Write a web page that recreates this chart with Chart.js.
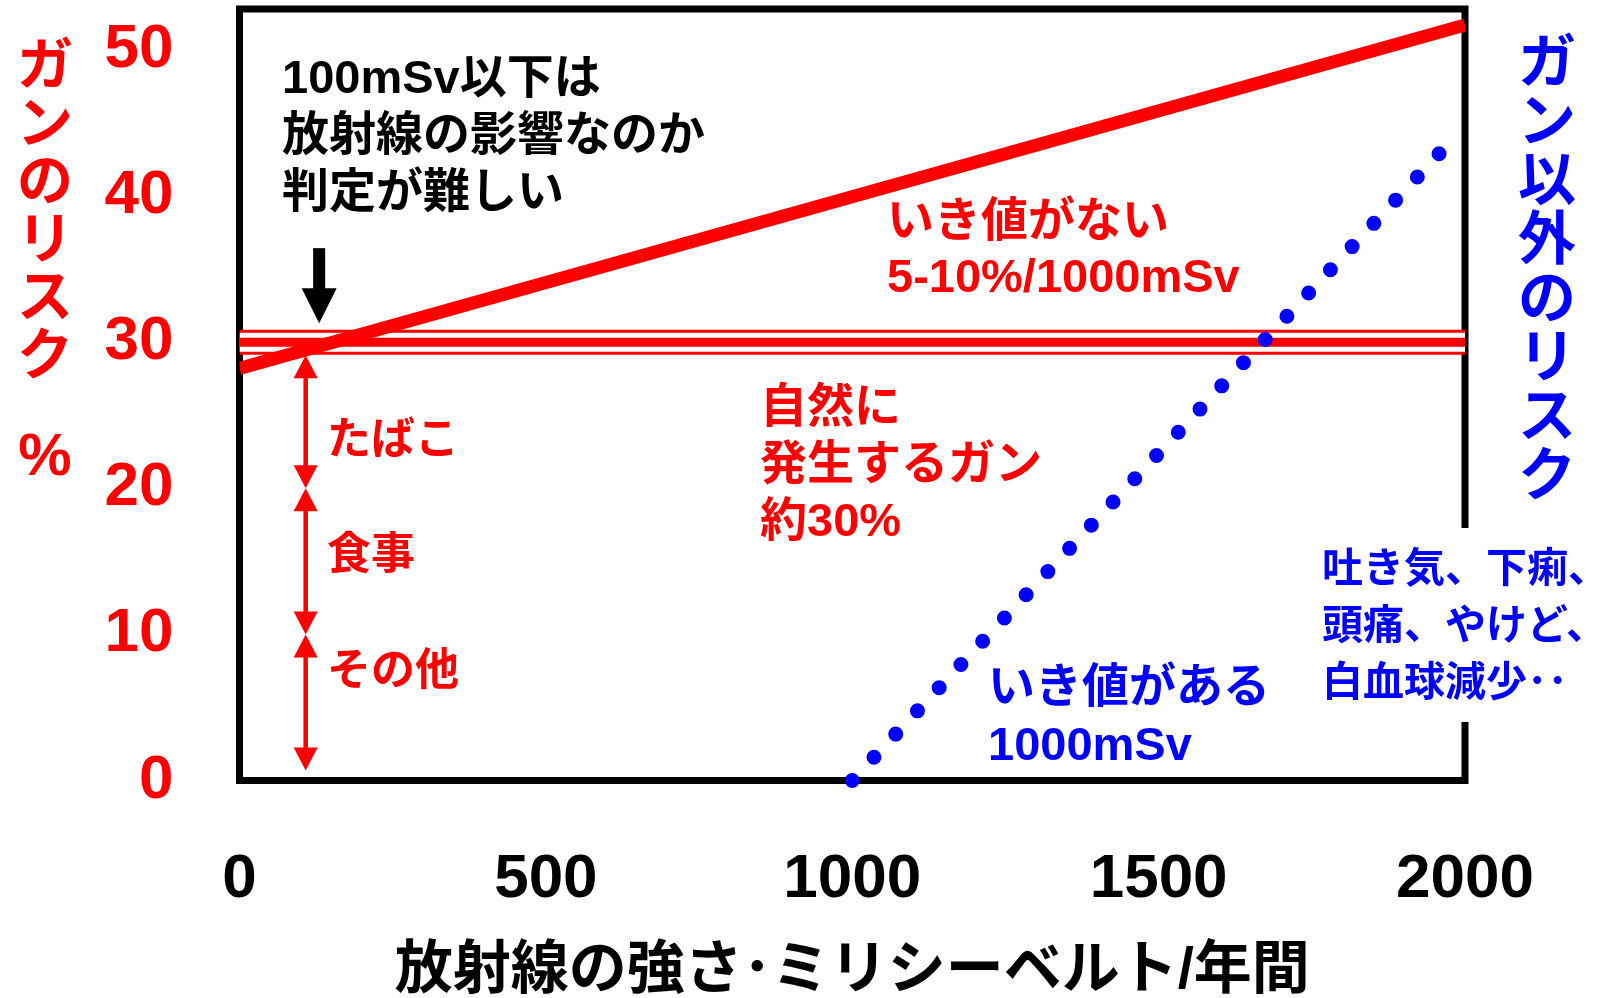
<!DOCTYPE html>
<html lang="ja">
<head>
<meta charset="utf-8">
<script src="https://cdn.jsdelivr.net/npm/chart.js@4.4.1/dist/chart.umd.min.js"></script>
<style>
  html, body { margin: 0; padding: 0; background: #ffffff; }
  #wrap { width: 1615px; height: 998px; position: relative; }
</style>
</head>
<body>
<div id="wrap"><canvas id="c" width="1615" height="998"></canvas></div>
<script>
// 軸の目盛り
const doseTicks = [0, 500, 1000, 1500, 2000];
const riskTicks = [0, 10, 20, 30, 40, 50];

// いき値がない（直線モデル）: 線量 → ガンのリスク %
const linearDose = [0, 2000];
const linearRisk = [28.2, 51.7];

// 自然に発生するガン 約30%
const naturalDose = [0, 2000];
const naturalRisk = [30, 30];

// いき値がある（1000mSv から増加）
const thresholdDose = [1000, 1960];
const thresholdRisk = [0, 43];

// 自然発生ガンの内訳
const causeLabels = ['たばこ', '食事', 'その他'];
const causeTop = [30, 20, 10];
const causeBottom = [20, 10, 0];

const RED = '#ff0000';
const BLUE = '#0000ff';
const FONT = '"Liberation Sans", "Noto Sans CJK JP", sans-serif';

const pts = (xs, ys) => xs.map((x, i) => ({ x, y: ys[i] }));

function font(size) { return 'bold ' + size + 'px ' + FONT; }

function textLines(ctx, lines, x, y0, step, size, color) {
  ctx.font = font(size);
  ctx.fillStyle = color;
  ctx.textAlign = 'left';
  ctx.textBaseline = 'middle';
  lines.forEach((t, i) => ctx.fillText(t, x, y0 + i * step));
}

function verticalText(ctx, str, x, y0, step, size, color) {
  ctx.font = font(size);
  ctx.fillStyle = color;
  ctx.textAlign = 'center';
  ctx.textBaseline = 'middle';
  [...str].forEach((ch, i) => ctx.fillText(ch, x, y0 + i * step));
}

function arrowHead(ctx, x, tipY, dir, w, len) {
  ctx.beginPath();
  ctx.moveTo(x, tipY);
  ctx.lineTo(x - w / 2, tipY + dir * len);
  ctx.lineTo(x + w / 2, tipY + dir * len);
  ctx.closePath();
  ctx.fill();
}

// 目盛りラベルのはみ出し分の余白を付けない
function noLabelPadding(s) {
  s.paddingTop = 0; s.paddingBottom = 0; s.paddingLeft = 0; s.paddingRight = 0;
}

// 枠線
const framePlugin = {
  id: 'frame',
  beforeDatasetsDraw(chart) {
    const { ctx, chartArea: a } = chart;
    ctx.save();
    ctx.lineWidth = 7;
    ctx.strokeStyle = '#000';
    ctx.lineJoin = 'miter';
    ctx.strokeRect(a.left, a.top, a.right - a.left, a.bottom - a.top);
    ctx.restore();
  }
};

// 注釈・矢印・縦書きの軸タイトル
const notesPlugin = {
  id: 'notes',
  afterDatasetsDraw(chart) {
    const { ctx } = chart;
    const xs = chart.scales.x, ys = chart.scales.y;
    ctx.save();

    // 100mSv を指す黒い矢印
    const ax = xs.getPixelForValue(130);
    const tip = ys.getPixelForValue(31.3);
    ctx.fillStyle = '#000';
    ctx.fillRect(ax - 6, tip - 75, 12, 42);
    arrowHead(ctx, ax, tip, -1, 35, 35);

    // 内訳の両矢印
    const cx = xs.getPixelForValue(108);
    ctx.fillStyle = RED;
    causeLabels.forEach((name, i) => {
      let yTop = ys.getPixelForValue(causeTop[i]);
      let yBot = ys.getPixelForValue(causeBottom[i]);
      if (i === 0) yTop += 13;
      if (i === causeLabels.length - 1) yBot -= 10;
      ctx.fillRect(cx - 2.25, yTop + 20, 4.5, yBot - yTop - 40);
      arrowHead(ctx, cx, yTop, 1, 24, 23);
      arrowHead(ctx, cx, yBot, -1, 24, 23);
    });
    textLines(ctx, [causeLabels[0]], 327, 442, 0, 44, RED);
    textLines(ctx, [causeLabels[1]], 327, 557, 0, 44, RED);
    textLines(ctx, [causeLabels[2]], 327, 673, 0, 44, RED);

    textLines(ctx, ['100mSv以下は', '放射線の影響なのか', '判定が難しい'], 282, 80, 57, 47, '#000');
    textLines(ctx, ['いき値がない', '5-10%/1000mSv'], 887, 223, 56, 47, RED);
    textLines(ctx, ['自然に', '発生するガン', '約30%'], 760, 409, 57, 47, RED);
    textLines(ctx, ['いき値がある', '1000mSv'], 988, 689, 58, 47, BLUE);
    ctx.restore();
  },
  afterDraw(chart) {
    const { ctx } = chart;
    ctx.save();
    // 右側の説明（白地）
    ctx.fillStyle = '#fff';
    ctx.fillRect(1316, 528, 299, 194);
    textLines(ctx, ['吐き気、下痢、', '頭痛、やけど、', '白血球減少･･'], 1322, 571, 57, 41, BLUE);

    // 縦書きの軸タイトル
    verticalText(ctx, 'ガンのリスク', 45, 69, 58, 56, RED);
    ctx.font = font(60);
    ctx.fillStyle = RED;
    ctx.textAlign = 'center';
    ctx.textBaseline = 'middle';
    ctx.fillText('%', 45, 458);
    verticalText(ctx, 'ガン以外のリスク', 1547, 66, 59, 58, BLUE);
    ctx.restore();
  }
};

const chart = new Chart(document.getElementById('c'), {
  type: 'line',
  data: {
    // 先頭のデータセットほど手前に描かれる
    datasets: [
      { data: pts(thresholdDose, thresholdRisk), borderColor: BLUE, borderWidth: 15, pointRadius: 0,
        borderDash: [0, 31.8], borderCapStyle: 'round', clip: false },
      { data: pts(linearDose, linearRisk), borderColor: RED, borderWidth: 13, pointRadius: 0, borderCapStyle: 'butt' },
      { data: pts(naturalDose, naturalRisk), borderColor: RED, borderWidth: 9, pointRadius: 0, borderCapStyle: 'butt' },
      { data: pts(naturalDose, naturalRisk), borderColor: '#ffffff', borderWidth: 19, pointRadius: 0, borderCapStyle: 'butt' },
      { data: pts(naturalDose, naturalRisk), borderColor: RED, borderWidth: 25, pointRadius: 0, borderCapStyle: 'butt' }
    ]
  },
  options: {
    responsive: false,
    animation: false,
    events: [],
    layout: { padding: { left: 0, right: 150, top: 9, bottom: 0 }, autoPadding: false },
    plugins: { legend: { display: false }, tooltip: { enabled: false } },
    scales: {
      x: {
        type: 'linear', min: 0, max: 2000,
        afterBuildTicks: s => { s.ticks = doseTicks.map(v => ({ value: v })); },
        afterFit: s => { s.height = 217.5; noLabelPadding(s); },
        grid: { display: false, drawTicks: false, tickLength: 0 },
        border: { display: false },
        ticks: { font: { family: FONT, size: 62, weight: 'bold' }, color: '#000', padding: 62,
                 maxRotation: 0, autoSkip: false, callback: v => String(v) },
        title: { display: true, text: '放射線の強さ･ミリシーベルト/年間', color: '#000',
                 font: { family: FONT, size: 58, weight: 'bold' }, padding: { top: 0, bottom: -9 } }
      },
      y: {
        type: 'linear', min: 0, max: 52.8,
        afterBuildTicks: s => { s.ticks = riskTicks.map(v => ({ value: v })); },
        afterFit: s => { s.width = 239.5; noLabelPadding(s); },
        grid: { display: false, drawTicks: false, tickLength: 0 },
        border: { display: false },
        ticks: { font: { family: FONT, size: 62, weight: 'bold' }, color: RED, padding: 66, callback: v => String(v) }
      }
    }
  },
  plugins: [framePlugin, notesPlugin]
});

if (document.fonts && document.fonts.load) {
  Promise.all([
    document.fonts.load('bold 62px "Liberation Sans"'),
    document.fonts.load('bold 47px "Noto Sans CJK JP"', 'ガンのリスク放射線')
  ]).then(() => chart.update());
}
</script>
</body>
</html>
